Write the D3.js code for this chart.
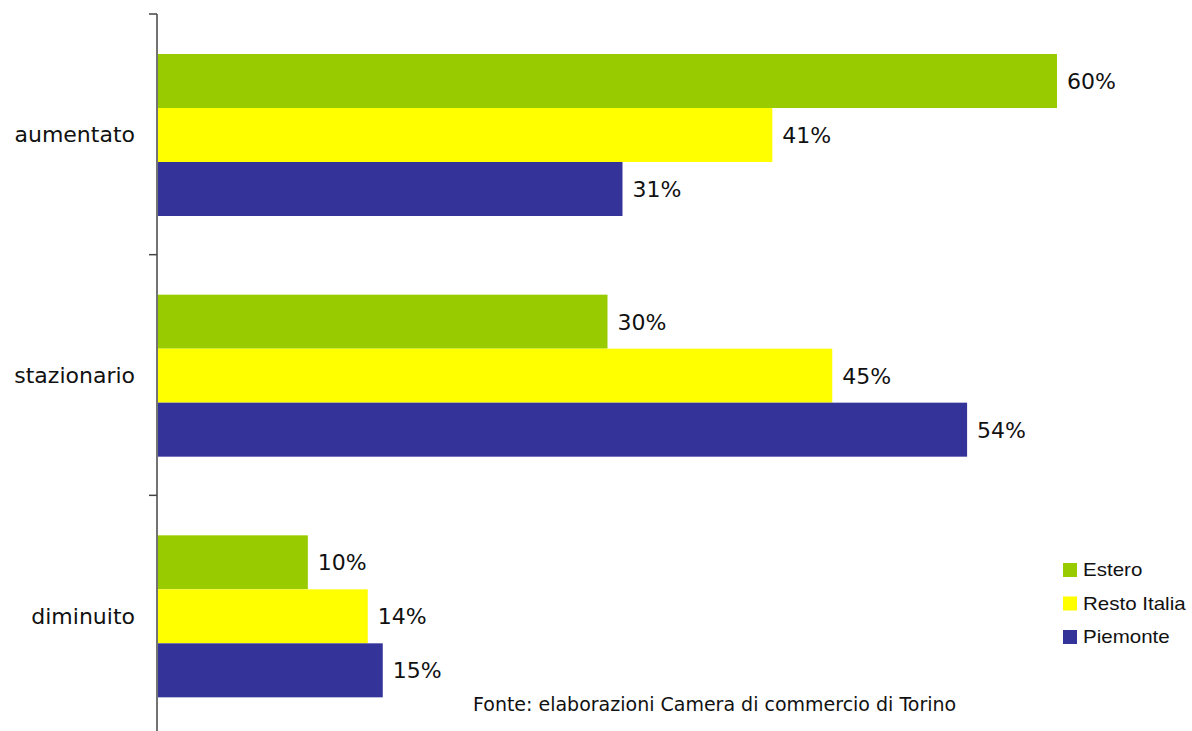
<!DOCTYPE html>
<html>
<head>
<meta charset="utf-8">
<script src="https://cdn.jsdelivr.net/npm/d3@7"></script>
<style>
  html, body { margin: 0; padding: 0; background: #fff; }
  svg { display: block; }
</style>
</head>
<body>
<svg id="chart" width="1192" height="731"></svg>
<script>
// Categories (top to bottom) and series
const categories = ["aumentato", "stazionario", "diminuito"];
const seriesNames = ["Estero", "Resto Italia", "Piemonte"];
const estero = [60, 30, 10];
const restoItalia = [41, 45, 14];
const piemonte = [31, 54, 15];
const seriesColors = ["#99CC00", "#FFFF00", "#333399"];
const sourceNote = "Fonte: elaborazioni Camera di commercio di Torino";

const seriesValues = [estero, restoItalia, piemonte];

const svg = d3.select("#chart");
const labelFont = "'DejaVu Sans', sans-serif";

const axisX = 157;
const y0 = d3.scaleBand().domain(categories).range([14, 736]).paddingInner(0).paddingOuter(0);
const y1 = d3.scaleBand().domain(seriesNames).range([40, 202]);
const x = d3.scaleLinear().domain([0, 60]).range([axisX + 1, 1057]);

// Bars with value labels
const groups = svg.selectAll("g.cat")
  .data(categories)
  .join("g")
  .attr("class", "cat")
  .attr("transform", d => `translate(0,${y0(d)})`);

groups.each(function (cat, ci) {
  const g = d3.select(this);
  const rows = seriesNames.map((s, si) => ({ s, si, v: seriesValues[si][ci] }));
  g.selectAll("rect")
    .data(rows)
    .join("rect")
    .attr("x", x(0))
    .attr("y", d => y1(d.s))
    .attr("width", d => x(d.v) - x(0))
    .attr("height", y1.bandwidth())
    .attr("fill", d => seriesColors[d.si]);
  g.selectAll("text.val")
    .data(rows)
    .join("text")
    .attr("class", "val")
    .attr("x", d => x(d.v) + 10)
    .attr("y", d => y1(d.s) + y1.bandwidth() / 2)
    .attr("dy", "0.36em")
    .attr("font-family", labelFont)
    .attr("font-size", 22)
    .attr("fill", "#111")
    .text(d => d.v + "%");
});

// Category axis: line plus ticks at band boundaries
const axisG = svg.append("g");
axisG.append("line")
  .attr("x1", axisX).attr("x2", axisX)
  .attr("y1", y0.range()[0]).attr("y2", 731)
  .attr("stroke", "#444").attr("stroke-width", 1.5);
axisG.selectAll("line.tick")
  .data(categories)
  .join("line")
  .attr("class", "tick")
  .attr("x1", axisX - 8).attr("x2", axisX)
  .attr("y1", d => y0(d)).attr("y2", d => y0(d))
  .attr("stroke", "#444").attr("stroke-width", 1.5);
axisG.selectAll("text.cat")
  .data(categories)
  .join("text")
  .attr("class", "cat")
  .attr("x", 135)
  .attr("y", d => y0(d) + y0.bandwidth() / 2)
  .attr("dy", "0.36em")
  .attr("text-anchor", "end")
  .attr("font-family", labelFont)
  .attr("font-size", 22)
  .attr("fill", "#111")
  .text(d => d);

// Legend
const legend = svg.append("g").attr("transform", "translate(1063,563)");
const li = legend.selectAll("g")
  .data(seriesNames)
  .join("g")
  .attr("transform", (d, i) => `translate(0,${i * 33.5})`);
li.append("rect")
  .attr("width", 14).attr("height", 14)
  .attr("fill", (d, i) => seriesColors[i]);
li.append("text")
  .attr("transform", "translate(20,7) scale(1.14,1)")
  .attr("dy", "0.36em")
  .attr("font-family", "'Liberation Sans', Arial, sans-serif")
  .attr("font-size", 18)
  .attr("fill", "#111")
  .text(d => d);

// Source note
svg.append("text")
  .attr("x", 473).attr("y", 711)
  .attr("font-family", labelFont)
  .attr("font-size", 19)
  .attr("fill", "#111")
  .text(sourceNote);
</script>
</body>
</html>
